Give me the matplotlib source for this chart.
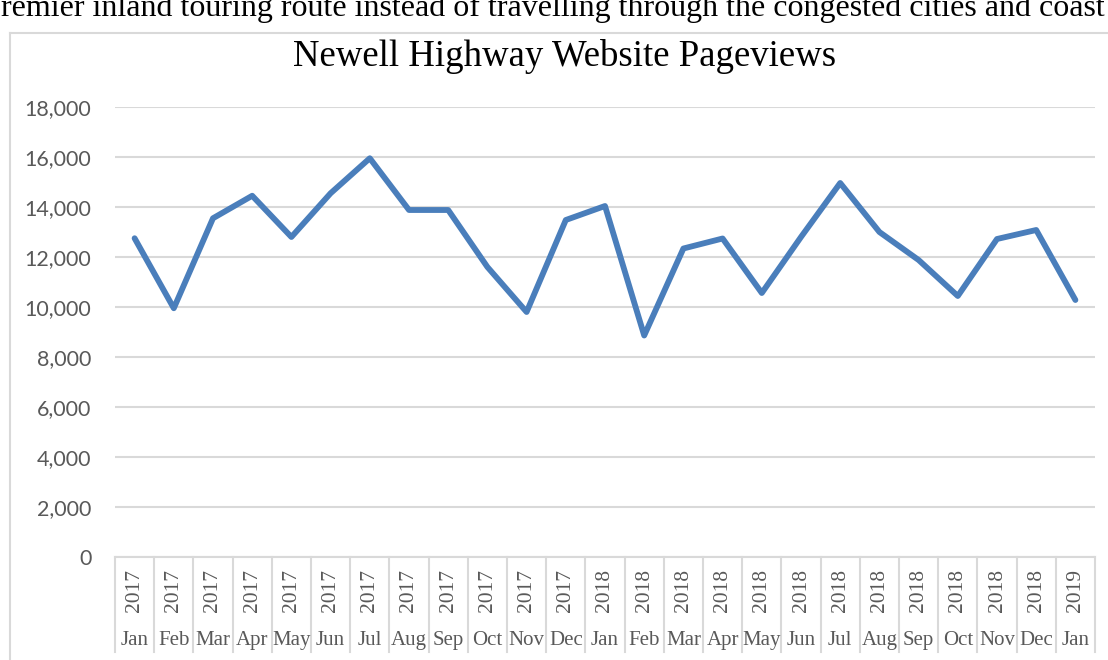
import matplotlib.pyplot as plt
from matplotlib.lines import Line2D
from matplotlib.ticker import FuncFormatter
import matplotlib.transforms as mtransforms

months = ['Jan', 'Feb', 'Mar', 'Apr', 'May', 'Jun', 'Jul', 'Aug', 'Sep', 'Oct', 'Nov', 'Dec',
          'Jan', 'Feb', 'Mar', 'Apr', 'May', 'Jun', 'Jul', 'Aug', 'Sep', 'Oct', 'Nov', 'Dec', 'Jan']
years = ['2017'] * 12 + ['2018'] * 12 + ['2019']
pageviews = [12750, 9950, 13550, 14450, 12800, 14550, 15950, 13880, 13880, 11600, 9800, 13480,
             14040, 8860, 12340, 12740, 10560, 12800, 14960, 13000, 11880, 10440, 12720, 13080, 10280]

W, H = 1108, 660
fig = plt.figure(figsize=(W / 100, H / 100), dpi=100)

# page text cut off at the top (cropped like in the reference)
fig.text(1105 / W, 1 - 16 / H, 'premier inland touring route instead of travelling through the congested cities and coast',
         ha='right', va='baseline', fontsize=23, family='Liberation Serif', color='black')

# chart border
fig.add_artist(Line2D([10 / W, 10 / W], [0, 1 - 33 / H], color='#d9d9d9', lw=1.5))
fig.add_artist(Line2D([10 / W, 1], [1 - 33 / H, 1 - 33 / H], color='#d9d9d9', lw=1.5))

ax = fig.add_axes([115 / W, 103 / H, 980 / W, 450 / H])
x = list(range(len(pageviews)))
ax.plot(x, pageviews, color='#4a7ebb', lw=4.2, solid_joinstyle='round', solid_capstyle='round')

ax.set_xlim(-0.5, len(pageviews) - 0.5)
ax.set_ylim(0, 18000)
ax.set_yticks(range(0, 18001, 2000))
ax.yaxis.set_major_formatter(FuncFormatter(lambda v, p: f'{int(v):,}'))
ax.grid(axis='y', color='#d9d9d9', lw=1.5)
ax.set_axisbelow(True)
ax.set_xticks([])
for s in ['top', 'right', 'left']:
    ax.spines[s].set_visible(False)
ax.spines['bottom'].set_color('#d9d9d9')
ax.spines['bottom'].set_linewidth(1.5)
ax.tick_params(axis='y', length=0, pad=17, labelsize=15.5, labelcolor='#595959')
for lab in ax.get_yticklabels():
    lab.set_family('Lato')

fig.text(565 / W, 1 - 56 / H, 'Newell Highway Website Pageviews', family='Liberation Serif',
         fontsize=26.5, ha='center', va='center')

# multi-level category axis
trans = mtransforms.blended_transform_factory(ax.transData, ax.transAxes)
for k in range(len(pageviews) + 1):
    ax.add_line(Line2D([k - 0.5, k - 0.5], [0, -0.211], transform=trans, color='#d9d9d9',
                       lw=1.5, clip_on=False))
for i in x:
    ax.text(i, -0.075, years[i], transform=trans, rotation=90, ha='center', va='center',
            family='Liberation Serif', fontsize=15.5, color='#595959')
    ax.text(i, -0.185, months[i], transform=trans, ha='center', va='center',
            family='Liberation Serif', fontsize=15, color='#595959')

fig.savefig('out.png', dpi=100)
